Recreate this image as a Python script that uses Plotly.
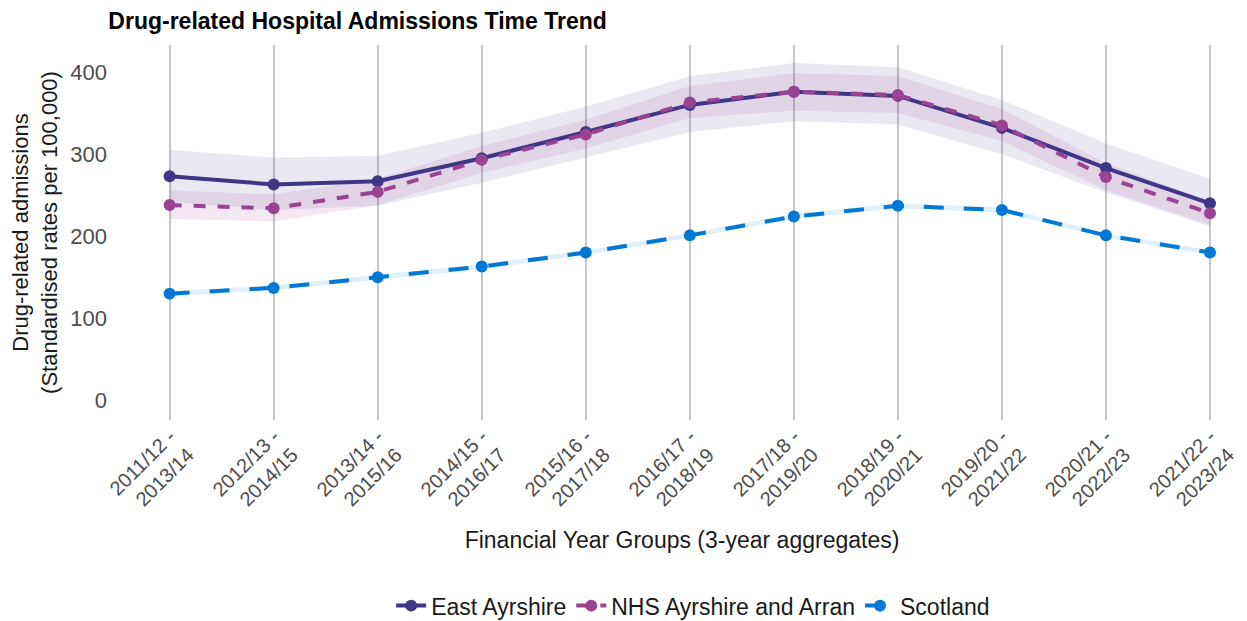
import plotly.graph_objects as go

periods = ['2011/12 -<br>2013/14', '2012/13 -<br>2014/15', '2013/14 -<br>2015/16',
           '2014/15 -<br>2016/17', '2015/16 -<br>2017/18', '2016/17 -<br>2018/19',
           '2017/18 -<br>2019/20', '2018/19 -<br>2020/21', '2019/20 -<br>2021/22',
           '2020/21 -<br>2022/23', '2021/22 -<br>2023/24']

east_ayrshire = [273, 263, 267, 295, 327, 360, 376, 371, 332, 283, 240]
east_ayrshire_upper = [305, 296, 298, 326, 358, 395, 411, 406, 366, 313, 270]
east_ayrshire_lower = [242, 232, 237, 265, 296, 327, 340, 336, 300, 253, 212]

nhs_aa = [238, 234, 254, 293, 324, 363, 376, 372, 335, 272, 228]
nhs_aa_upper = [256, 251, 270, 310, 342, 383, 399, 395, 355, 289, 243]
nhs_aa_lower = [221, 218, 238, 277, 307, 344, 353, 350, 316, 256, 214]

scotland = [130, 137, 150, 163, 180, 201, 224, 237, 232, 201, 180]
scotland_upper = [133, 140, 153, 166, 183, 204, 227, 240, 235, 204, 183]
scotland_lower = [127, 134, 147, 160, 177, 198, 221, 234, 229, 198, 177]

series = [
    ('East Ayrshire', east_ayrshire, east_ayrshire_lower, east_ayrshire_upper,
     '#3F3685', 'rgba(63,54,133,0.11)', 'solid'),
    ('NHS Ayrshire and Arran', nhs_aa, nhs_aa_lower, nhs_aa_upper,
     '#9B4393', 'rgba(155,67,147,0.12)', 'dash'),
    ('Scotland', scotland, scotland_lower, scotland_upper,
     '#0078D4', 'rgba(0,120,212,0.12)', 'longdash'),
]

x = list(range(len(periods)))
fig = go.Figure()

# confidence bands first
for name, vals, lo, hi, col, fill, dash in series:
    fig.add_trace(go.Scatter(x=x, y=hi, mode='lines', line=dict(width=0),
                             showlegend=False, hoverinfo='skip'))
    fig.add_trace(go.Scatter(x=x, y=lo, mode='lines', line=dict(width=0),
                             fill='tonexty', fillcolor=fill,
                             showlegend=False, hoverinfo='skip'))

for name, vals, lo, hi, col, fill, dash in series:
    fig.add_trace(go.Scatter(x=x, y=vals, mode='lines+markers', name=name,
                             line=dict(color=col, width=4, dash=dash),
                             marker=dict(color=col, size=12)))

# page body has an 8px margin, so the figure is 16px smaller than the window
fig.update_layout(
    width=1239, height=613,
    margin=dict(l=120, r=11, t=37, b=201),
    plot_bgcolor='white', paper_bgcolor='white',
    font=dict(family='Liberation Sans, Arial, sans-serif', size=22, color='#222222'),
    title=dict(text='<b>Drug-related Hospital Admissions Time Trend</b>',
               x=0.081, xanchor='left', y=0.979, yanchor='middle',
               font=dict(size=23, color='black')),
    showlegend=True,
    legend=dict(orientation='h', xref='container', x=0.553, xanchor='center',
                yref='container', y=0.025, yanchor='middle', traceorder='normal',
                font=dict(size=23, color='#1a1a1a'), itemwidth=30),
    xaxis=dict(
        tickmode='array', tickvals=x, ticktext=periods,
        range=[-0.4, 10.25], tickangle=-45, automargin=False,
        showgrid=True, gridcolor='#c6c6c6', gridwidth=1.5,
        zeroline=False, showline=False, ticks='',
        tickfont=dict(size=20, color='#4d4d4d'),
        title=dict(text='Financial Year Groups (3-year aggregates)',
                   font=dict(size=23, color='#1a1a1a'), standoff=13),
    ),
    yaxis=dict(
        range=[-24, 433], tickvals=[0, 100, 200, 300, 400], automargin=False,
        showgrid=False, zeroline=False, showline=False, ticks='',
        ticklabelstandoff=20,
        tickfont=dict(size=22, color='#4d4d4d'),
        title=dict(text='Drug-related admissions<br>(Standardised rates per 100,000)',
                   font=dict(size=22, color='#1a1a1a'), standoff=18),
    ),
)

fig.write_html('out.html')
